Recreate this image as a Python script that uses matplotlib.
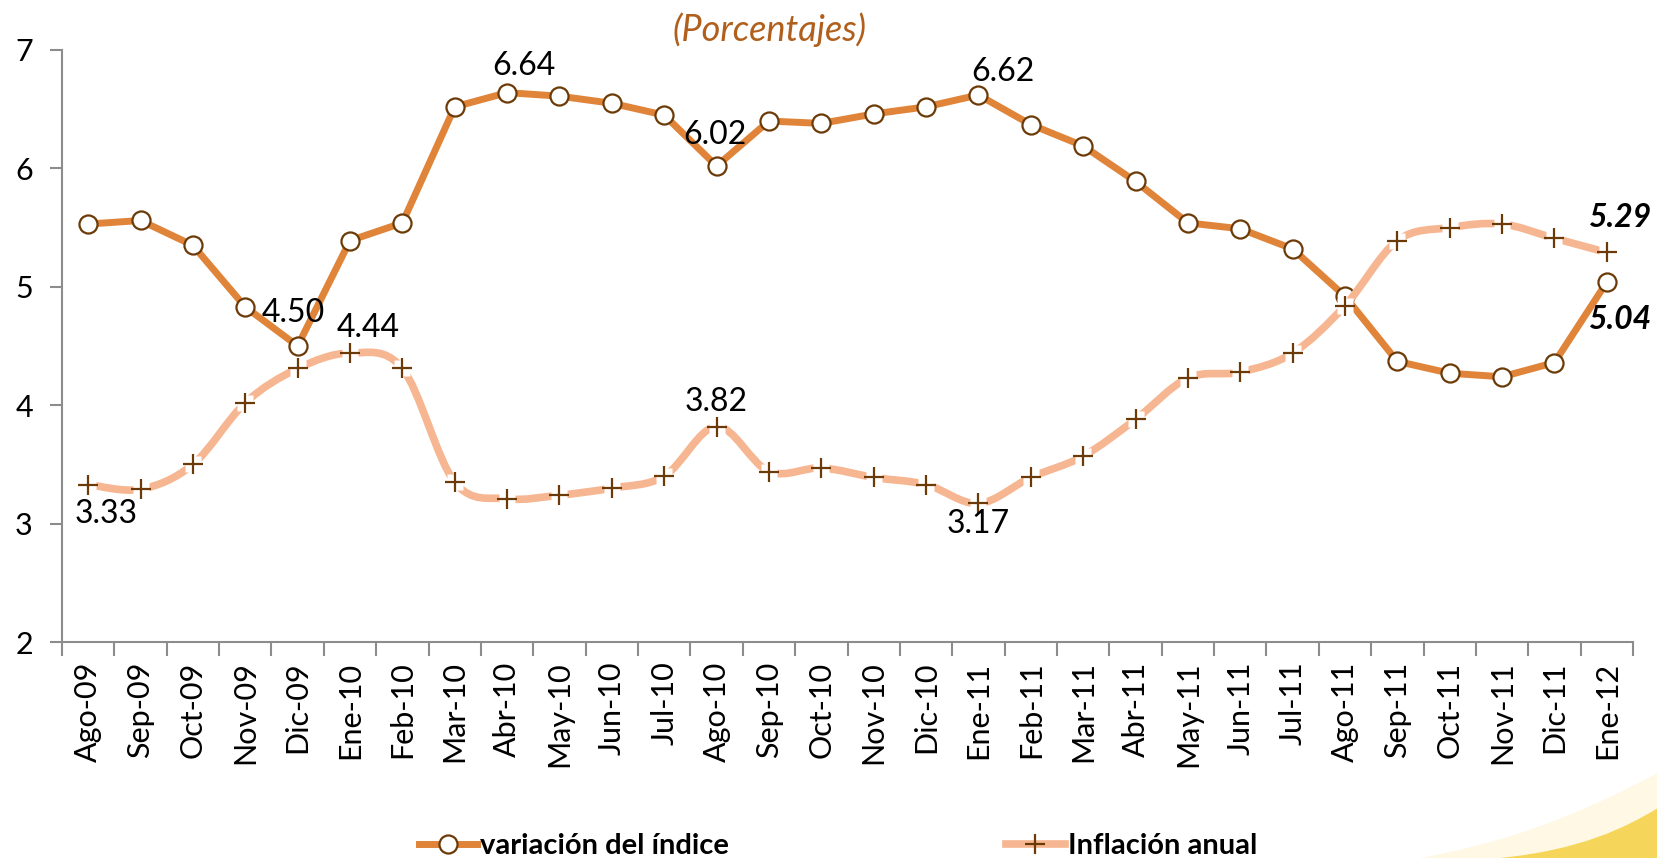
import numpy as np
import matplotlib
matplotlib.use('Agg')
import matplotlib.pyplot as plt
from matplotlib.path import Path
from matplotlib.patches import PathPatch
from matplotlib.lines import Line2D

plt.rcParams['font.family'] = ['Lato', 'DejaVu Sans']

# data
months = ['Ago-09', 'Sep-09', 'Oct-09', 'Nov-09', 'Dic-09', 'Ene-10', 'Feb-10', 'Mar-10',
          'Abr-10', 'May-10', 'Jun-10', 'Jul-10', 'Ago-10', 'Sep-10', 'Oct-10', 'Nov-10',
          'Dic-10', 'Ene-11', 'Feb-11', 'Mar-11', 'Abr-11', 'May-11', 'Jun-11', 'Jul-11',
          'Ago-11', 'Sep-11', 'Oct-11', 'Nov-11', 'Dic-11', 'Ene-12']
variacion = [5.53, 5.56, 5.35, 4.83, 4.50, 5.39, 5.54, 6.52, 6.64, 6.61, 6.55, 6.45,
             6.02, 6.40, 6.38, 6.46, 6.52, 6.62, 6.37, 6.19, 5.89, 5.54, 5.49, 5.32,
             4.92, 4.37, 4.27, 4.24, 4.36, 5.04]
inflacion = [3.33, 3.29, 3.50, 4.02, 4.31, 4.44, 4.31, 3.35, 3.21, 3.24, 3.30, 3.40,
             3.82, 3.44, 3.47, 3.39, 3.33, 3.17, 3.39, 3.57, 3.88, 4.23, 4.28, 4.44,
             4.84, 5.39, 5.50, 5.53, 5.41, 5.29]

c_var = '#E0843A'
c_inf = '#F7B692'
c_mark = '#6B3A07'

W, H = 1658, 858
fig = plt.figure(figsize=(W / 100, H / 100), dpi=100)
ax = fig.add_axes([62 / W, 1 - 642 / H, (1633 - 62) / W, (642 - 50) / H])

x = np.arange(len(months))

# variacion del indice: straight segments, open circles
ax.plot(x, variacion, color=c_var, lw=5, zorder=2, solid_capstyle='round')
ax.plot(x, variacion, ls='none', marker='o', ms=13, mfc='white', mec=c_mark, mew=1.6, zorder=3)

# inflacion anual: smoothed line (bezier through the points, like excel)
y = np.array(inflacion)
verts = [(x[0], y[0])]
codes = [Path.MOVETO]
n = len(x)
for i in range(n - 1):
    p0 = np.array([x[max(i - 1, 0)], y[max(i - 1, 0)]])
    p1 = np.array([x[i], y[i]])
    p2 = np.array([x[i + 1], y[i + 1]])
    p3 = np.array([x[min(i + 2, n - 1)], y[min(i + 2, n - 1)]])
    c1 = p1 + (p2 - p0) / 6
    c2 = p2 - (p3 - p1) / 6
    verts += [tuple(c1), tuple(c2), tuple(p2)]
    codes += [Path.CURVE4] * 3
ax.add_patch(PathPatch(Path(verts, codes), fill=False, ec=c_inf, lw=5.5,
                       capstyle='round', zorder=4))
ax.plot(x, inflacion, ls='none', marker='s', ms=12, mfc='white', mec='none', zorder=5)
ax.plot(x, inflacion, ls='none', marker='+', ms=14, mec=c_mark, mew=1.6, zorder=6)

# data labels (offsets in pixels)
lab_kw = dict(textcoords='offset pixels', ha='center', va='center', fontsize=23, zorder=7)
ax.annotate('4.50', (4, variacion[4]), xytext=(-4, 33), **lab_kw)
ax.annotate('6.64', (8, variacion[8]), xytext=(17, 27), **lab_kw)
ax.annotate('6.02', (12, variacion[12]), xytext=(-2, 31), **lab_kw)
ax.annotate('6.62', (17, variacion[17]), xytext=(24, 23), **lab_kw)
ax.annotate('3.33', (0, inflacion[0]), xytext=(18, -29), **lab_kw)
ax.annotate('4.44', (5, inflacion[5]), xytext=(18, 25), **lab_kw)
ax.annotate('3.82', (12, inflacion[12]), xytext=(0, 25), **lab_kw)
ax.annotate('3.17', (17, inflacion[17]), xytext=(0, -21), **lab_kw)
big = dict(lab_kw, fontsize=23, fontweight='bold', fontstyle='italic')
ax.annotate('5.29', (29, inflacion[29]), xytext=(14, 35), **big)
ax.annotate('5.04', (29, variacion[29]), xytext=(14, -37), **big)

# axes
ax.set_xlim(-0.5, n - 0.5)
ax.set_ylim(2, 7)
ax.set_yticks([2, 3, 4, 5, 6, 7])
ax.set_xticks(x)
ax.set_xticklabels(months, rotation=90, fontsize=22)
ax.set_xticks(np.arange(-0.5, n, 1), minor=True)
ax.tick_params(axis='x', which='major', length=0, pad=14)
ax.tick_params(axis='x', which='minor', length=10, width=1.5, color='#8C8C8C')
ax.tick_params(axis='y', length=9, width=1.5, color='#8C8C8C', labelsize=22, pad=12)
for s in ['top', 'right']:
    ax.spines[s].set_visible(False)
for s in ['left', 'bottom']:
    ax.spines[s].set_color('#8C8C8C')
    ax.spines[s].set_linewidth(1.5)
ax.patch.set_alpha(0)

fig.text(770 / W, 1 - 30 / H, '(Porcentajes)', ha='center', va='center', fontsize=26,
         fontstyle='italic', color='#B0601C')

# legend
h1 = Line2D([], [], color=c_var, lw=5, marker='o', ms=13, mfc='white', mec=c_mark, mew=1.6)
h2 = Line2D([], [], color=c_inf, lw=5.5, marker='+', ms=14, mec=c_mark, mew=1.6)
leg = fig.legend([h1, h2], ['variación del índice', 'Inflación anual'], loc='center',
                 bbox_to_anchor=(838 / W, 1 - 846 / H), ncol=2, frameon=False,
                 handlelength=2.0, handletextpad=0.1, columnspacing=9.5,
                 prop={'size': 21, 'weight': 'bold'})

# yellow swoosh bottom right
sw = Path([(1500, 0), (1580, 8), (1625, 30), (W, 50), (W, 0), (1500, 0)],
          [Path.MOVETO, Path.CURVE4, Path.CURVE4, Path.CURVE4, Path.LINETO, Path.CLOSEPOLY])
sw2 = Path([(1420, 0), (1530, 20), (1600, 55), (W, 85), (W, 0), (1420, 0)],
           [Path.MOVETO, Path.CURVE4, Path.CURVE4, Path.CURVE4, Path.LINETO, Path.CLOSEPOLY])
fig.patches.append(PathPatch(sw2, transform=None, fc='#FEF8E4', ec='none', zorder=0))
fig.patches.append(PathPatch(sw, transform=None, fc='#F6D65A', ec='none', zorder=0))

fig.savefig('out.png', dpi=100)
